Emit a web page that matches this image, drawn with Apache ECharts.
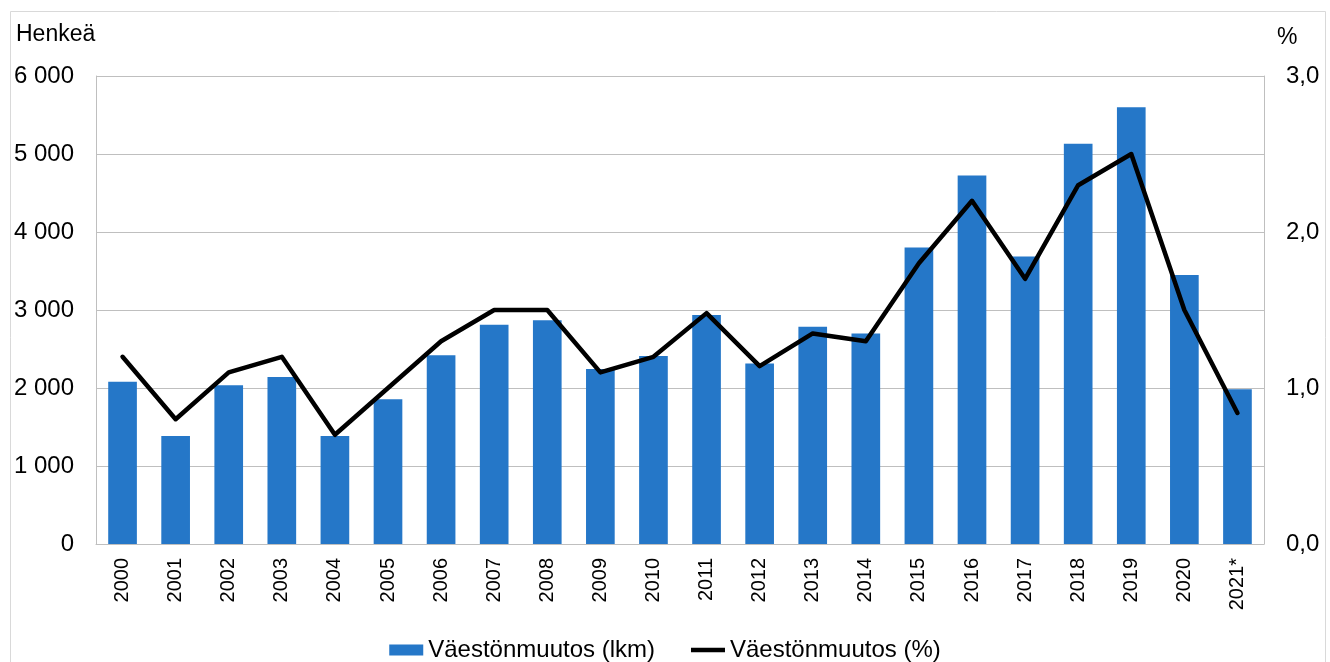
<!DOCTYPE html>
<html>
<head>
<meta charset="utf-8">
<script src="https://cdn.jsdelivr.net/npm/echarts@6/dist/echarts.min.js"></script>
<style>
html,body{margin:0;padding:0;background:#fff;}
#chart{width:1330px;height:662px;}
</style>
</head>
<body>
<div id="chart"></div>
<script>
const categories = ['2000','2001','2002','2003','2004','2005','2006','2007','2008','2009','2010','2011','2012','2013','2014','2015','2016','2017','2018','2019','2020','2021*'];
const changeCount = [2080,1385,2035,2140,1385,1855,2420,2810,2870,2245,2410,2935,2315,2785,2700,3800,4725,3685,5130,5600,3450,1985];
const changePct = [1.2,0.8,1.1,1.2,0.7,1.0,1.3,1.5,1.5,1.1,1.2,1.48,1.14,1.35,1.3,1.8,2.2,1.7,2.3,2.5,1.5,0.84];
const leftTicks = {min:0, max:6000, interval:1000};
const rightTicks = {min:0, max:3, interval:1};
const seriesNames = ['Väestönmuutos (lkm)', 'Väestönmuutos (%)'];

const font = 'Liberation Sans, Arial, sans-serif';
const chart = echarts.init(document.getElementById('chart'), null, {renderer:'canvas'});
chart.setOption({
  animation:false,
  backgroundColor:'#fff',
  textStyle:{fontFamily:font},
  grid:{left:96, right:66, top:76, bottom:118, containLabel:false},
  graphic:[
    {type:'rect', shape:{x:10.5, y:11.5, width:1315, height:670}, style:{fill:'none', stroke:'#d9d9d9', lineWidth:1}, silent:true},
    {type:'text', left:16, top:23, style:{text:'Henkeä', font:'23px ' + font, fill:'#000'}},
    {type:'text', left:1277, top:26, style:{text:'%', font:'23px ' + font, fill:'#000'}}
  ],
  legend:{
    left:'center', top:633, itemGap:36, itemWidth:34, itemHeight:11,
    textStyle:{fontSize:24, color:'#000', fontFamily:font},
    data:[
      {name:seriesNames[0], icon:'rect'},
      {name:seriesNames[1], icon:'path://M0,0H34V4.5H0Z', itemStyle:{color:'#000'}}
    ]
  },
  xAxis:{
    type:'category', data:categories,
    axisLine:{show:true, lineStyle:{color:'#bfbfbf', width:1}},
    axisTick:{show:false},
    axisLabel:{rotate:90, fontSize:20, color:'#000', margin:14, fontFamily:font, interval:0}
  },
  yAxis:[
    {
      type:'value', min:leftTicks.min, max:leftTicks.max, interval:leftTicks.interval,
      axisLine:{show:true, lineStyle:{color:'#bfbfbf'}},
      axisTick:{show:false},
      splitLine:{show:true, lineStyle:{color:'#bfbfbf', width:1}},
      axisLabel:{fontSize:24, color:'#000', margin:22, fontFamily:font,
        formatter:v => String(v).replace(/\B(?=(\d{3})+(?!\d))/g, ' ')}
    },
    {
      type:'value', min:rightTicks.min, max:rightTicks.max, interval:rightTicks.interval,
      axisLine:{show:true, lineStyle:{color:'#bfbfbf'}},
      axisTick:{show:false},
      splitLine:{show:false},
      axisLabel:{fontSize:24, color:'#000', margin:22, fontFamily:font,
        formatter:v => v.toFixed(1).replace('.', ',')}
    }
  ],
  series:[
    {name:seriesNames[0], type:'bar', data:changeCount, yAxisIndex:0,
      barWidth:'54%', itemStyle:{color:'#2577C8'}},
    {name:seriesNames[1], type:'line', data:changePct, yAxisIndex:1,
      symbol:'none', lineStyle:{color:'#000', width:4.5, join:'round', cap:'round'}, itemStyle:{color:'#000'}}
  ]
});
</script>
</body>
</html>
